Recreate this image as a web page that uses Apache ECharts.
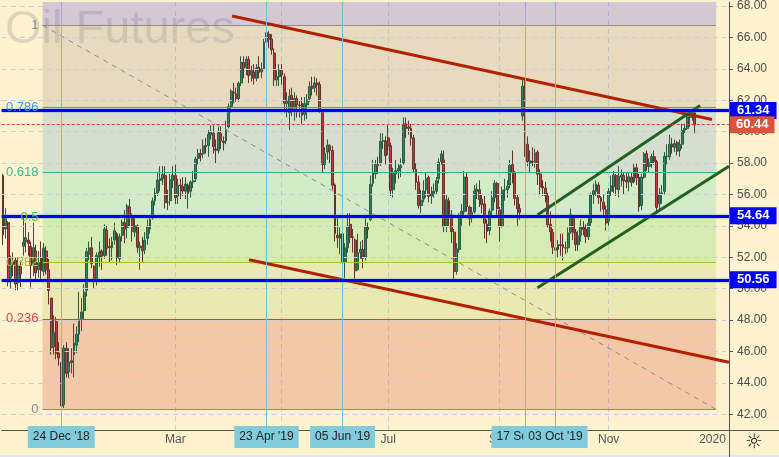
<!DOCTYPE html>
<html>
<head>
<meta charset="utf-8">
<script src="https://cdn.jsdelivr.net/npm/echarts/dist/echarts.min.js"></script>
<style>
html, body { margin: 0; padding: 0; background: #fff2cf; }
#chart { width: 779px; height: 457px; }
</style>
</head>
<body>
<div id="chart"></div>
<script>
// daily candles per month: [day, open, close, low, high]
const nov18 = [
  [20, 57.20, 53.43, 52.77, 57.30], [21, 53.80, 54.63, 53.20, 55.13], [23, 54.20, 50.42, 50.15, 54.30],
  [26, 50.70, 51.63, 50.00, 52.10], [27, 51.70, 51.56, 50.80, 52.30], [28, 51.80, 50.29, 49.90, 52.00],
  [29, 50.40, 51.45, 49.90, 52.00], [30, 51.40, 50.93, 50.10, 51.80]
];
const dec18 = [
  [3, 52.70, 52.95, 52.10, 54.55], [4, 53.00, 53.25, 52.30, 54.20], [5, 53.10, 52.89, 52.10, 53.60],
  [6, 52.70, 51.49, 50.08, 53.00], [7, 51.60, 52.61, 50.80, 54.20], [10, 52.40, 51.00, 50.60, 52.80],
  [11, 51.20, 51.65, 50.70, 52.40], [12, 52.00, 51.15, 50.50, 53.00], [13, 51.10, 52.58, 50.80, 52.90],
  [14, 52.40, 51.20, 50.90, 52.70], [17, 51.20, 49.88, 49.00, 51.90], [18, 49.40, 46.24, 45.80, 49.40],
  [19, 46.30, 47.20, 45.80, 48.30], [20, 47.90, 45.88, 45.50, 48.20], [21, 45.90, 45.59, 45.10, 46.60],
  [24, 45.30, 42.53, 42.36, 46.20], [26, 42.60, 46.22, 42.40, 46.40], [27, 46.20, 44.61, 44.35, 46.60],
  [28, 44.70, 45.33, 44.30, 46.20], [31, 45.30, 45.41, 44.60, 46.20]
];
const jan19 = [
  [2, 45.80, 46.54, 44.35, 47.78], [3, 46.40, 47.09, 45.90, 47.60], [4, 47.10, 47.96, 46.60, 49.80],
  [7, 48.10, 48.52, 47.30, 49.40], [8, 48.60, 49.78, 48.00, 50.30], [9, 49.90, 52.36, 49.50, 52.60],
  [10, 52.20, 52.59, 51.80, 53.00], [11, 52.60, 51.59, 51.30, 53.30], [14, 51.40, 50.51, 50.00, 51.50],
  [15, 50.50, 52.11, 50.20, 52.30], [16, 52.00, 52.31, 51.40, 53.00], [17, 52.40, 52.07, 51.20, 52.50],
  [18, 52.10, 53.80, 51.90, 54.10], [22, 53.70, 52.57, 52.10, 54.00], [23, 52.70, 52.62, 51.70, 53.20],
  [24, 52.60, 52.99, 51.80, 53.30], [25, 53.10, 53.69, 52.80, 54.20], [28, 53.50, 51.99, 51.50, 53.60],
  [29, 51.90, 53.31, 51.70, 53.50], [30, 53.40, 54.23, 53.00, 54.40], [31, 54.20, 53.79, 52.90, 55.00]
];
const feb19 = [
  [1, 53.90, 55.26, 53.20, 55.40], [4, 55.20, 54.56, 54.00, 55.70], [5, 54.50, 53.66, 53.00, 54.80],
  [6, 53.60, 54.01, 53.30, 54.60], [7, 54.00, 52.64, 52.30, 54.10], [8, 52.60, 52.72, 51.20, 53.00],
  [11, 52.70, 52.41, 51.70, 53.30], [12, 52.50, 53.10, 52.20, 53.60], [13, 53.20, 53.90, 52.80, 54.40],
  [14, 53.80, 54.41, 53.50, 54.70], [15, 54.50, 55.59, 54.40, 55.80], [19, 55.60, 56.09, 55.30, 56.40],
  [20, 56.10, 56.92, 55.90, 57.40], [21, 56.90, 57.00, 56.20, 57.80], [22, 57.00, 57.26, 56.60, 57.80],
  [25, 57.20, 55.48, 55.10, 57.80], [26, 55.50, 55.50, 55.00, 56.30], [27, 55.60, 56.94, 55.30, 57.30],
  [28, 56.90, 57.22, 56.40, 57.80]
];
const mar19 = [
  [1, 57.20, 55.80, 55.40, 57.90], [4, 55.90, 56.59, 55.40, 57.00], [5, 56.60, 56.56, 55.70, 57.00],
  [6, 56.50, 56.22, 55.90, 57.10], [7, 56.20, 56.66, 55.70, 57.10], [8, 56.60, 56.07, 55.10, 56.70],
  [11, 56.20, 56.79, 55.80, 56.90], [12, 56.80, 56.87, 56.40, 57.50], [13, 57.00, 58.26, 56.80, 58.40],
  [14, 58.30, 58.61, 57.90, 58.90], [15, 58.60, 58.52, 58.10, 58.90], [18, 58.60, 59.09, 58.30, 59.50],
  [19, 59.10, 59.03, 58.60, 59.60], [20, 59.10, 59.83, 58.40, 60.10], [21, 59.80, 59.98, 59.50, 60.40],
  [22, 59.90, 59.04, 58.60, 60.40], [25, 58.90, 58.82, 58.00, 59.50], [26, 58.80, 59.94, 58.60, 60.30],
  [27, 59.90, 59.41, 58.90, 60.30], [28, 59.40, 59.30, 58.80, 59.70], [29, 59.40, 60.14, 59.20, 60.70]
];
const apr19 = [
  [1, 60.30, 61.59, 60.20, 61.80], [2, 61.60, 62.58, 61.20, 62.70], [3, 62.50, 62.46, 61.80, 63.10],
  [4, 62.40, 62.10, 61.90, 62.80], [5, 62.10, 63.08, 61.90, 63.20], [8, 63.10, 64.40, 62.90, 64.80],
  [9, 64.40, 64.05, 63.40, 64.80], [10, 64.10, 64.61, 63.60, 64.80], [11, 64.60, 63.58, 63.10, 64.80],
  [12, 63.60, 63.89, 63.20, 64.20], [15, 63.80, 63.40, 63.00, 64.30], [16, 63.40, 64.05, 63.20, 64.30],
  [17, 64.10, 63.76, 63.40, 64.80], [18, 63.80, 64.00, 63.40, 64.40], [22, 64.00, 65.70, 63.90, 65.90],
  [23, 65.70, 66.30, 65.50, 66.60], [24, 66.20, 65.89, 65.30, 66.40], [25, 65.90, 65.21, 64.90, 66.20],
  [26, 65.00, 63.30, 62.90, 65.30], [29, 63.30, 63.50, 62.90, 63.90], [30, 63.50, 63.91, 62.90, 64.30]
];
const may19 = [
  [1, 63.90, 63.60, 63.00, 64.30], [2, 63.50, 61.81, 61.20, 63.70], [3, 61.80, 61.94, 60.90, 62.50],
  [6, 61.20, 62.25, 60.10, 62.70], [7, 62.30, 61.40, 61.00, 62.80], [8, 61.50, 62.12, 60.70, 62.50],
  [9, 62.10, 61.70, 60.90, 62.30], [10, 61.70, 61.66, 60.90, 62.00], [13, 61.80, 61.04, 60.50, 62.20],
  [14, 61.10, 61.78, 60.70, 62.20], [15, 61.70, 62.02, 60.80, 62.40], [16, 62.10, 62.87, 61.90, 63.20],
  [17, 62.90, 62.76, 62.30, 63.50], [20, 62.80, 63.10, 62.50, 63.50], [21, 63.10, 62.99, 62.30, 63.40],
  [22, 63.00, 61.42, 61.20, 63.20], [23, 61.30, 57.91, 57.40, 61.40], [24, 57.90, 58.63, 57.60, 59.00],
  [28, 58.70, 59.14, 58.20, 59.50], [29, 59.10, 58.81, 58.00, 59.20], [30, 58.80, 56.59, 56.30, 59.10],
  [31, 56.60, 53.50, 53.00, 56.70]
];
const jun19 = [
  [3, 53.40, 53.25, 52.60, 54.50], [4, 53.20, 53.48, 52.20, 53.90], [5, 53.50, 51.68, 50.60, 54.00],
  [6, 51.70, 52.59, 50.70, 52.90], [7, 52.60, 53.99, 52.30, 54.80], [10, 54.10, 53.26, 52.90, 54.80],
  [11, 53.30, 53.27, 52.30, 53.80], [12, 53.10, 51.14, 50.60, 53.20], [13, 51.20, 52.28, 51.20, 53.50],
  [14, 52.30, 52.51, 51.90, 53.00], [17, 52.50, 51.93, 51.30, 53.10], [18, 52.00, 53.90, 51.80, 54.70],
  [19, 53.90, 53.76, 53.20, 54.20], [20, 54.40, 56.65, 54.30, 57.20], [21, 56.70, 57.43, 56.50, 58.20],
  [24, 57.30, 57.90, 57.00, 58.20], [25, 57.90, 57.83, 57.30, 58.40], [26, 58.00, 59.38, 57.80, 59.90],
  [27, 59.40, 59.43, 58.90, 59.90], [28, 59.40, 58.47, 57.90, 59.70]
];
const jul19 = [
  [1, 59.60, 59.09, 58.50, 60.40], [2, 59.10, 56.25, 55.90, 59.30], [3, 56.30, 57.34, 55.80, 57.70],
  [5, 57.30, 57.51, 56.70, 58.20], [8, 57.50, 57.66, 57.00, 58.00], [9, 57.70, 57.83, 57.10, 58.30],
  [10, 58.00, 60.43, 57.90, 60.90], [11, 60.50, 60.20, 59.60, 60.90], [12, 60.30, 60.21, 59.80, 60.70],
  [15, 60.20, 59.58, 59.10, 60.50], [16, 59.60, 57.62, 57.40, 59.80], [17, 57.60, 56.78, 56.30, 58.00],
  [18, 56.80, 55.30, 55.10, 57.20], [19, 55.30, 55.63, 54.80, 56.30], [22, 55.70, 56.22, 55.50, 56.90],
  [23, 56.30, 57.00, 55.80, 57.40], [24, 57.10, 55.88, 55.50, 57.20], [25, 55.90, 56.02, 55.40, 56.50],
  [26, 56.00, 56.20, 55.80, 56.70], [29, 56.20, 56.87, 56.00, 57.10], [30, 57.00, 58.05, 56.70, 58.30],
  [31, 58.10, 58.58, 57.90, 58.80]
];
const aug19 = [
  [1, 58.20, 53.95, 53.60, 58.80], [2, 54.00, 55.66, 53.60, 56.00], [5, 55.60, 54.69, 54.00, 55.80],
  [6, 54.70, 53.63, 52.90, 55.00], [7, 53.60, 51.09, 50.52, 53.80], [8, 51.10, 52.54, 50.90, 52.90],
  [9, 52.50, 54.50, 52.30, 54.80], [12, 54.50, 54.93, 54.00, 55.40], [13, 54.90, 57.10, 54.50, 57.50],
  [14, 57.10, 55.23, 54.90, 57.40], [15, 55.20, 54.47, 54.00, 55.30], [16, 54.50, 54.87, 54.20, 55.20],
  [19, 54.90, 56.21, 54.80, 56.60], [20, 56.20, 56.34, 55.70, 56.70], [21, 56.30, 55.68, 55.20, 56.90],
  [22, 55.70, 55.35, 54.80, 56.00], [23, 55.40, 54.17, 53.20, 55.90], [26, 54.10, 53.64, 52.90, 54.40],
  [27, 53.70, 54.93, 53.40, 55.10], [28, 55.00, 55.78, 54.50, 56.20], [29, 55.80, 56.71, 55.50, 56.90],
  [30, 56.70, 55.10, 54.70, 56.80]
];
const sep19 = [
  [3, 55.00, 53.94, 53.00, 55.20], [4, 54.00, 56.26, 53.90, 56.50], [5, 56.30, 56.30, 55.60, 57.00],
  [6, 56.30, 56.52, 55.80, 56.90], [9, 56.60, 57.85, 56.40, 58.20], [10, 57.90, 57.40, 56.70, 58.80],
  [11, 57.40, 55.75, 55.30, 57.50], [12, 55.80, 55.09, 54.00, 56.00], [13, 55.10, 54.85, 54.40, 55.40],
  [16, 61.00, 62.90, 60.70, 63.40], [17, 62.60, 59.34, 58.40, 63.30], [18, 59.20, 58.11, 57.80, 59.70],
  [19, 58.00, 58.13, 57.40, 58.80], [20, 58.10, 58.09, 57.80, 59.00], [23, 58.00, 58.64, 57.70, 58.90],
  [24, 58.70, 57.29, 56.60, 58.80], [25, 57.30, 56.49, 56.00, 57.60], [26, 56.50, 56.41, 55.90, 56.90],
  [27, 56.40, 55.91, 55.50, 56.80], [30, 55.90, 54.07, 53.90, 56.10]
];
const oct19 = [
  [1, 54.10, 53.62, 53.00, 54.90], [2, 53.60, 52.64, 52.20, 53.80], [3, 52.60, 52.45, 50.99, 52.80],
  [4, 52.50, 52.81, 52.00, 53.10], [7, 52.80, 52.75, 52.10, 53.50], [8, 52.80, 52.63, 51.80, 53.50],
  [9, 52.60, 52.59, 52.20, 53.00], [10, 52.60, 53.55, 52.30, 53.90], [11, 53.60, 54.70, 53.50, 55.10],
  [14, 54.60, 53.59, 53.10, 54.70], [15, 53.60, 52.81, 52.40, 53.80], [16, 52.80, 53.36, 52.40, 53.70],
  [17, 53.40, 53.93, 53.00, 54.40], [18, 53.90, 53.78, 53.40, 54.30], [21, 53.80, 53.31, 52.90, 54.10],
  [22, 53.30, 54.16, 53.10, 54.60], [23, 54.20, 55.97, 54.00, 56.10], [24, 56.00, 56.23, 55.40, 56.70],
  [25, 56.20, 56.66, 55.90, 56.90], [28, 56.60, 55.81, 55.40, 56.80], [29, 55.80, 55.54, 54.90, 55.90],
  [30, 55.50, 55.06, 54.70, 56.00], [31, 55.00, 54.18, 53.70, 55.30]
];
const nov19 = [
  [1, 54.30, 56.20, 54.00, 56.40], [4, 56.20, 56.54, 55.90, 57.20], [5, 56.50, 57.23, 56.10, 57.50],
  [6, 57.20, 56.35, 55.90, 57.30], [7, 56.30, 57.15, 55.80, 57.80], [8, 57.10, 57.24, 56.50, 57.60],
  [11, 57.20, 56.86, 56.00, 57.40], [12, 56.90, 56.80, 56.40, 57.40], [13, 56.80, 57.12, 56.20, 57.40],
  [14, 57.10, 56.77, 56.50, 57.40], [15, 56.80, 57.72, 56.70, 58.00], [18, 57.70, 57.05, 56.60, 58.00],
  [19, 57.10, 55.21, 54.90, 57.30], [20, 55.30, 57.11, 55.00, 57.30], [21, 57.10, 58.58, 57.00, 58.70],
  [22, 58.60, 57.77, 57.50, 58.80], [25, 57.80, 58.01, 57.40, 58.30], [26, 58.00, 58.41, 57.70, 58.60],
  [27, 58.40, 58.11, 57.90, 58.80], [29, 58.10, 55.17, 54.80, 58.20]
];
const dec19 = [
  [2, 55.40, 55.96, 55.00, 56.40], [3, 56.00, 56.10, 55.40, 56.60], [4, 56.20, 58.43, 56.00, 58.70],
  [5, 58.40, 58.43, 57.90, 59.20], [6, 58.40, 59.20, 58.20, 59.80], [9, 59.20, 59.02, 58.60, 59.60],
  [10, 59.00, 59.24, 58.70, 59.50], [11, 59.30, 58.76, 58.50, 59.40], [12, 58.80, 59.18, 58.40, 59.50],
  [13, 59.20, 60.07, 58.90, 60.50], [16, 60.10, 60.21, 59.90, 60.50], [17, 60.20, 60.94, 60.10, 61.10],
  [18, 60.90, 60.93, 60.30, 61.10], [19, 60.90, 61.22, 60.70, 61.40], [20, 61.20, 60.44, 59.90, 61.40]
];
// empty future sessions on the right of the chart
const futureDates = ['2019-12-23', '2019-12-24', '2019-12-26', '2019-12-27', '2019-12-30', '2019-12-31',
  '2020-01-02', '2020-01-03', '2020-01-06', '2020-01-07', '2020-01-08', '2020-01-09', '2020-01-10'];

const yMin = 41;
const yMax = 68.25;
const yTicks = [42, 44, 46, 48, 50, 52, 54, 56, 58, 60, 62, 64, 66, 68];

// fibonacci retracement (drawn from Apr high to Dec low)
const fibLow = 42.31;
const fibHigh = 66.77;
const fibRatios = [0, 0.236, 0.382, 0.5, 0.618, 0.786, 1];
const fibNames = ['0', '0.236', '0.382', '0.5', '0.618', '0.786', '1'];
const fibLineColors = ['#8c8c8c', '#e23c3c', '#9cca2c', '#3cc83c', '#32b496', '#2f9ff0', '#8c8c8c'];
const fibLabelColors = ['#8c8c8c', '#e04646', '#a4c63a', '#46c846', '#34bc96', '#3aa2ea', '#8c8c8c'];
const fibZoneColors = ['rgba(211,71,48,0.25)', 'rgba(171,207,88,0.25)', 'rgba(91,215,88,0.25)',
  'rgba(83,215,176,0.25)', 'rgba(91,167,200,0.25)', 'rgba(163,151,136,0.25)', 'rgba(83,79,224,0.25)'];
const fibStart = 15.6;   // bar position of the left edge of the tool
const fibEnd = 281.4;    // bar position of the right edge

// horizontal levels
const blueLevels = [61.34, 54.64, 50.56];
const lastPrice = 60.44;

// marked dates
const markedDates = ['2018-12-24', '2019-04-23', '2019-06-05', '2019-09-17', '2019-10-03'];
const markedNames = ["24 Dec '18", "23 Apr '19", "05 Jun '19", "17 Sep '19", "03 Oct '19"];
const monthDates = ['2019-03-01', '2019-07-01', '2019-09-03', '2019-11-01', '2020-01-02'];
const monthNames = ['Mar', 'Jul', 'Sep', 'Nov', '2020'];
const gridDates = ['2019-01-02', '2019-03-01', '2019-05-01', '2019-07-01', '2019-09-03', '2019-11-01', '2020-01-02'];

// trend lines: [bar, price] anchors
const redUpper = [[90.4, 67.36], [279.8, 60.77]];
const redLower = [[97.1, 51.84], [286.5, 45.31]];
const greenUpper = [[210.9, 54.69], [275.1, 61.66]];
const greenLower = [[210.9, 50.06], [286.5, 57.79]];

const months = [
  ['2018-11', nov18], ['2018-12', dec18], ['2019-01', jan19], ['2019-02', feb19], ['2019-03', mar19],
  ['2019-04', apr19], ['2019-05', may19], ['2019-06', jun19], ['2019-07', jul19], ['2019-08', aug19],
  ['2019-09', sep19], ['2019-10', oct19], ['2019-11', nov19], ['2019-12', dec19]
];
const dates = [];
const ohlc = [];
months.forEach(([ym, rows]) => {
  rows.forEach(r => {
    dates.push(ym + '-' + String(r[0]).padStart(2, '0'));
    ohlc.push([r[1], r[2], r[3], r[4]]);
  });
});
const categories = dates.concat(futureDates);
const xLeft = -0.5;
const xRight = categories.length - 0.5;

const dateLabel = {};
markedDates.forEach((d, i) => { dateLabel[d] = markedNames[i]; });
const monthLabel = {};
monthDates.forEach((d, i) => { monthLabel[d] = monthNames[i]; });

const fibLevel = r => fibLow + (fibHigh - fibLow) * r;

// zones
const zoneData = [];
for (let i = 0; i < fibRatios.length; i++) {
  const lo = fibLevel(fibRatios[i]);
  const hi = i + 1 < fibRatios.length ? fibLevel(fibRatios[i + 1]) : yMax;
  zoneData.push([
    { coord: [fibStart, lo], itemStyle: { color: fibZoneColors[i] } },
    { coord: [fibEnd, hi] }
  ]);
}
const fibLines = fibRatios.map((r, i) => [
  {
    coord: [fibStart, fibLevel(r)],
    lineStyle: { color: fibLineColors[i], width: 1, type: 'solid' },
    label: {
      show: true, position: 'start', distance: 4, formatter: fibNames[i],
      color: fibLabelColors[i], fontSize: 13, fontFamily: 'Liberation Sans'
    }
  },
  { coord: [fibEnd, fibLevel(r)] }
]);

function seg(pts, style, label) {
  return [
    { coord: pts[0], lineStyle: style, label: label || { show: false } },
    { coord: pts[1] }
  ];
}

function priceTag(text, bg, pad) {
  return {
    show: true, position: 'end', distance: 1, formatter: text,
    backgroundColor: bg, color: '#ffffff', fontSize: 13, fontWeight: 'bold',
    fontFamily: 'Liberation Sans', padding: pad, lineHeight: 13
  };
}

const gridLines = yTicks.map(v => seg([[xLeft, v], [xRight, v]], { color: '#c6cfe2', width: 1, type: [5, 4] }));

const levelLines = blueLevels.map(v => seg([[xLeft, v], [xRight, v]],
  { color: '#0000ff', width: 3, type: 'solid', shadowColor: '#4f86ff', shadowBlur: 2 },
  priceTag(v.toFixed(2), '#0000ff', [2, 7, 2, 7])))
  .concat([seg([[xLeft, lastPrice], [xRight, lastPrice]],
    { color: '#e0403a', width: 1, type: [3, 2] },
    priceTag(lastPrice.toFixed(2), '#d9533f', [2, 6, 2, 6]))]);

const chart = echarts.init(document.getElementById('chart'));

chart.setOption({
  backgroundColor: '#fff2cf',
  animation: false,
  grid: { show: false, left: 0, right: 50, top: 0, bottom: 27 },
  xAxis: [
    {
      type: 'category',
      data: categories,
      boundaryGap: true,
      axisLine: { onZero: false, lineStyle: { color: '#555555' } },
      axisTick: {
        alignWithLabel: true,
        length: 4,
        interval: (i, v) => !!(dateLabel[v] || monthLabel[v]),
        lineStyle: { color: '#555555' }
      },
      axisLabel: {
        interval: 0,
        margin: 1,
        fontFamily: 'Liberation Sans',
        fontSize: 12,
        color: '#555555',
        formatter: v => dateLabel[v] ? '{d|' + dateLabel[v] + '}' : (monthLabel[v] ? '{m|' + monthLabel[v] + '}' : ''),
        rich: {
          d: { backgroundColor: '#80cbdc', color: '#1c1c1c', fontSize: 12, lineHeight: 12, padding: [5, 5, 5, 5], fontFamily: 'Liberation Sans' },
          m: { color: '#555555', fontSize: 12, lineHeight: 12, padding: [6, 0, 0, 0], fontFamily: 'Liberation Sans' }
        }
      },
      splitLine: {
        show: true,
        showMinLine: false,
        showMaxLine: false,
        alignWithLabel: true,
        interval: (i, v) => gridDates.indexOf(v) >= 0,
        lineStyle: { color: '#c6cfe2', width: 1, type: [5, 4] }
      }
    },
    {
      type: 'value', min: xLeft, max: xRight, show: false,
      axisLine: { show: false, onZero: false }, axisTick: { show: false },
      axisLabel: { show: false }, splitLine: { show: false }
    }
  ],
  yAxis: {
    type: 'value',
    position: 'right',
    min: yMin,
    max: yMax,
    axisLine: { show: true, onZero: false, lineStyle: { color: '#555555' } },
    axisTick: { show: true, customValues: yTicks, length: 4, lineStyle: { color: '#555555' } },
    axisLabel: {
      customValues: yTicks,
      formatter: v => v.toFixed(2),
      color: '#4d4d4d',
      fontSize: 12,
      fontFamily: 'Liberation Sans',
      margin: 8
    },
    splitLine: { show: false }
  },
  graphic: [
    {
      type: 'text', left: 5, top: 7, z: 0, silent: true,
      style: { text: 'Oil Futures', font: '47px "Liberation Sans"', fill: 'rgba(110,110,110,0.22)' }
    },
    { type: 'rect', shape: { x: 0, y: 455, width: 779, height: 2 }, style: { fill: '#e2e5f2' }, silent: true },
    { type: 'line', shape: { x1: 729, y1: 430.5, x2: 779, y2: 430.5 }, style: { stroke: '#555555', lineWidth: 1 }, silent: true },
    { type: 'line', shape: { x1: 729.5, y1: 430, x2: 729.5, y2: 457 }, style: { stroke: '#555555', lineWidth: 1 }, silent: true },
    {
      type: 'text', x: 754, y: 443, silent: true,
      style: { text: '\u263C', font: '20px "DejaVu Sans"', fill: '#222222', align: 'center', verticalAlign: 'middle' }
    }
  ],
  series: [
    {
      name: 'CL',
      type: 'candlestick',
      xAxisIndex: 0,
      yAxisIndex: 0,
      data: ohlc,
      barWidth: 2.4,
      z: 2,
      itemStyle: {
        color: '#2a8c5e',
        color0: '#c63c3a',
        borderColor: '#2c5a44',
        borderColor0: '#66302c',
        borderWidth: 1
      }
    },
    {
      // horizontal grid lines
      type: 'line', xAxisIndex: 1, yAxisIndex: 0, data: [], z: 1, clip: false, silent: true,
      markLine: { silent: true, symbol: 'none', animation: false, data: gridLines }
    },
    {
      // fib zones and levels
      type: 'line', xAxisIndex: 1, yAxisIndex: 0, data: [], z: 3, clip: false, silent: true,
      markArea: { silent: true, animation: false, data: zoneData },
      markLine: { silent: true, symbol: 'none', animation: false, data: fibLines }
    },
    {
      // trend lines, fib diagonal, marked dates
      type: 'line', xAxisIndex: 1, yAxisIndex: 0, data: [], z: 4, clip: false, silent: true,
      markLine: {
        silent: true, symbol: 'none', animation: false,
        data: [
          seg([[fibStart, fibHigh], [fibEnd, fibLow]], { color: '#8a8a8a', width: 1, type: [5, 5] }),
          seg(redUpper, { color: '#b32000', width: 3, type: 'solid' }),
          seg(redLower, { color: '#b32000', width: 3, type: 'solid' }),
          seg(greenUpper, { color: '#1f6120', width: 3, type: 'solid' }),
          seg(greenLower, { color: '#1f6120', width: 3, type: 'solid' })
        ].concat(markedDates.map(d => {
          const i = categories.indexOf(d);
          return seg([[i, yMin], [i, yMax]], { color: '#6cc3df', width: 1, type: 'solid' });
        }))
      }
    },
    {
      // price levels
      type: 'line', xAxisIndex: 1, yAxisIndex: 0, data: [], z: 5, clip: false, silent: true,
      markLine: { silent: true, symbol: 'none', animation: false, data: levelLines }
    }
  ]
});

// drop a stray full-height edge line that shows up at the left border of the plot
const zr = chart.getZr();
zr.storage.getDisplayList(true).forEach(el => {
  const r = el.getBoundingRect().clone();
  if (el.transform) r.applyTransform(el.transform);
  if (r.height > 300 && r.width < 8 && r.x < 8) el.ignore = true;
});
zr.refreshImmediately();
</script>
</body>
</html>
